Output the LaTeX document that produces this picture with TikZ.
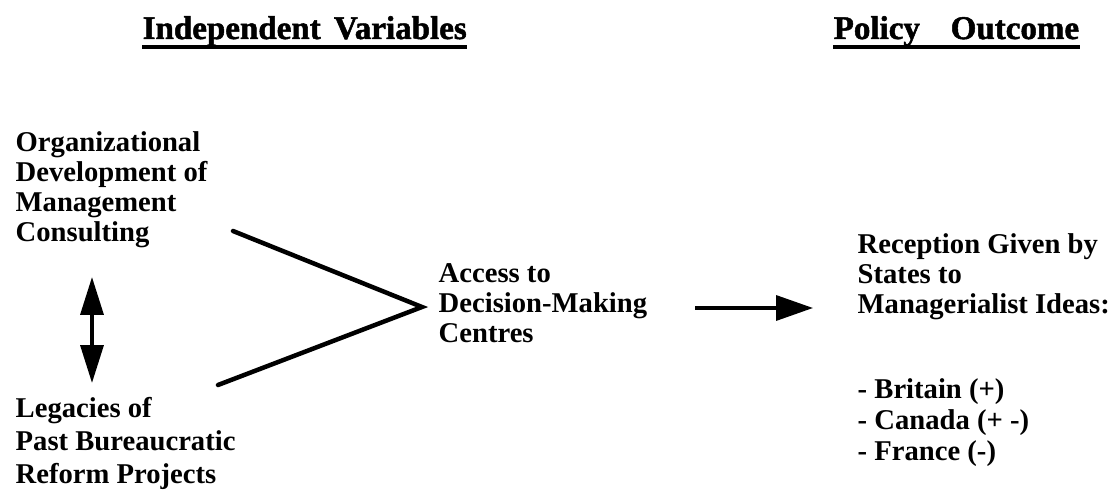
\documentclass[tikz,border=0pt]{standalone}
\usepackage{fontspec}
\setmainfont{Liberation Serif}
\newfontfamily\headfont{Liberation Serif}[BoldFeatures={FakeBold=1.5}]
\usepackage{tikz}
\usetikzlibrary{positioning, arrows.meta, calc}

\begin{document}
\begin{tikzpicture}[x = 0.02cm, y = -0.02cm, thick,
  heading/.style = {inner sep = 0, anchor = base west, font = \headfont\bfseries\fontsize{18.8}{20}\selectfont},
  block/.style = {inner sep = 0, anchor = north west, align = left, font = \bfseries\fontsize{16.3}{17}\selectfont},
  link/.style = {line width = 0.09cm, line cap = round},
  flow/.style = {line width = 0.07cm, -{Triangle[length = 0.74cm, width = 0.5cm]}}]
  \useasboundingbox (0, 0) rectangle (1110, 496);

  % headings
  \node [heading] (head-iv) at (142, 39) {Independent\hspace{0.1cm} Variables};
  \node [heading] (head-po) at (833, 39) {Policy\hspace{0.45cm} Outcome};
  \draw [line width = 0.09cm] ($(head-iv.base west) + (0, 8)$) -- ($(head-iv.base east) + (0, 8)$);
  \draw [line width = 0.09cm] ($(head-po.base west) + (0, 8)$) -- ($(head-po.base east) + (0, 8)$);

  % nodes
  \node [block] (org) at (15, 131) {Organizational\\Development of\\Management\\Consulting};
  \node [block, font = \bfseries\fontsize{16.3}{18.8}\selectfont] (legacy) at (15, 397) {Legacies of\\Past Bureaucratic\\Reform Projects};
  \node [block] (access) at (438, 263) {Access to\\Decision-Making\\Centres};
  \node [block] (reception) at (857, 233) {Reception Given by\\States to\\Managerialist Ideas:};
  \node [block, font = \bfseries\fontsize{16.3}{17.6}\selectfont] (states) at (857, 378) {- Britain (+)\\- Canada (+ -)\\- France (-)};

  \coordinate (org-end) at (233, 231);
  \coordinate (legacy-end) at (218, 385);
  \coordinate (meet) at (422, 307);
  \coordinate (both-top) at (92, 277);
  \coordinate (both-bottom) at (92, 383);
  \coordinate (flow-start) at (695, 308);
  \coordinate (flow-end) at (813, 308);

  % edges
  \draw [link] (org-end) -- (meet) -- (legacy-end);
  \draw [flow, {Triangle[length = 0.76cm, width = 0.46cm]}-{Triangle[length = 0.76cm, width = 0.46cm]}] (both-top) -- (both-bottom);
  \draw [flow] (flow-start) -- (flow-end);

\end{tikzpicture}
\end{document}
